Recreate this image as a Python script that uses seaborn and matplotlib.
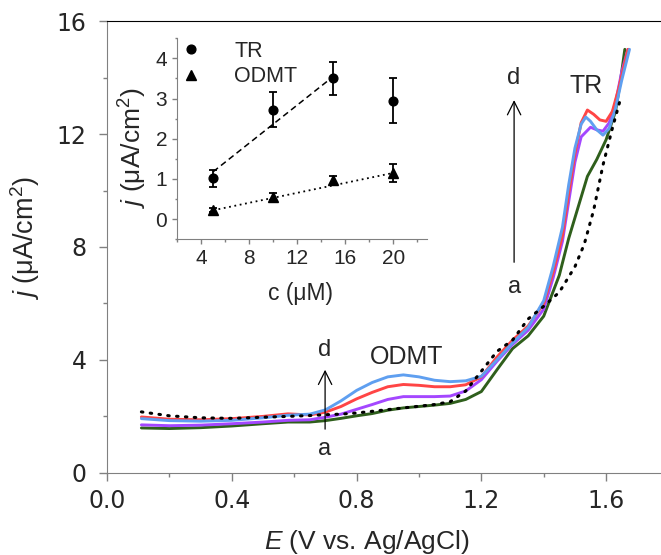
import matplotlib
matplotlib.use("Agg")
import matplotlib.pyplot as plt
from matplotlib.ticker import MultipleLocator
from matplotlib.lines import Line2D
import seaborn as sns

# main voltammograms, E in V, j in uA/cm2
E_a = [0.11, 0.2, 0.3, 0.4, 0.5, 0.58, 0.65, 0.70, 0.75, 0.80, 0.85, 0.90, 0.95, 1.0, 1.05, 1.10, 1.15, 1.20, 1.25, 1.30, 1.35, 1.40, 1.45, 1.48, 1.51, 1.54, 1.57, 1.60, 1.63, 1.645, 1.66]
j_a = [1.59, 1.57, 1.60, 1.66, 1.74, 1.80, 1.80, 1.85, 1.93, 2.02, 2.10, 2.22, 2.30, 2.35, 2.40, 2.46, 2.60, 2.88, 3.65, 4.40, 4.85, 5.55, 7.0, 8.3, 9.4, 10.5, 11.1, 11.8, 12.8, 13.8, 15.0]

E_b = [0.11, 0.2, 0.3, 0.4, 0.5, 0.58, 0.65, 0.70, 0.75, 0.80, 0.85, 0.90, 0.95, 1.0, 1.05, 1.10, 1.15, 1.20, 1.25, 1.30, 1.35, 1.40, 1.43, 1.46, 1.48, 1.50, 1.52, 1.55, 1.57, 1.59, 1.61, 1.63, 1.65, 1.67]
j_b = [1.70, 1.67, 1.69, 1.74, 1.80, 1.86, 1.88, 1.97, 2.08, 2.25, 2.42, 2.60, 2.70, 2.70, 2.70, 2.72, 2.90, 3.30, 3.95, 4.55, 5.05, 5.80, 6.9, 8.2, 9.6, 11.0, 11.9, 12.24, 12.15, 12.1, 12.4, 13.1, 14.2, 15.0]

E_c = [0.11, 0.2, 0.3, 0.4, 0.5, 0.58, 0.65, 0.70, 0.75, 0.80, 0.85, 0.90, 0.95, 1.0, 1.05, 1.10, 1.15, 1.20, 1.25, 1.30, 1.35, 1.40, 1.43, 1.46, 1.48, 1.50, 1.52, 1.54, 1.56, 1.58, 1.60, 1.62, 1.64, 1.67]
j_c = [1.98, 1.90, 1.88, 1.92, 2.00, 2.09, 2.05, 2.15, 2.35, 2.62, 2.85, 3.05, 3.13, 3.10, 3.05, 3.05, 3.12, 3.40, 4.10, 4.70, 5.20, 6.00, 7.1, 8.4, 9.9, 11.3, 12.4, 12.85, 12.7, 12.5, 12.45, 12.8, 13.6, 15.0]

E_d = [0.11, 0.2, 0.3, 0.4, 0.5, 0.58, 0.65, 0.70, 0.75, 0.80, 0.85, 0.90, 0.95, 1.0, 1.05, 1.10, 1.15, 1.20, 1.25, 1.30, 1.35, 1.40, 1.43, 1.46, 1.48, 1.50, 1.52, 1.535, 1.55, 1.57, 1.59, 1.61, 1.63, 1.65, 1.675]
j_d = [1.92, 1.85, 1.83, 1.86, 1.95, 2.04, 2.08, 2.23, 2.55, 2.92, 3.20, 3.40, 3.47, 3.40, 3.28, 3.23, 3.26, 3.42, 4.00, 4.60, 5.15, 6.10, 7.3, 8.7, 10.2, 11.5, 12.35, 12.6, 12.45, 12.15, 11.96, 12.2, 12.9, 13.9, 15.0]

E_blank = [0.11, 0.2, 0.3, 0.4, 0.5, 0.58, 0.65, 0.70, 0.75, 0.80, 0.85, 0.90, 0.95, 1.0, 1.05, 1.10, 1.15, 1.20, 1.25, 1.30, 1.35, 1.40, 1.45, 1.50, 1.53, 1.56, 1.59, 1.62, 1.645]
j_blank = [2.16, 2.02, 1.95, 1.93, 1.97, 2.00, 2.03, 2.06, 2.08, 2.12, 2.18, 2.24, 2.30, 2.36, 2.42, 2.52, 2.90, 3.60, 4.30, 4.70, 5.45, 5.90, 6.40, 7.30, 8.1, 9.3, 10.9, 12.2, 13.2]

# inset: peak current vs concentration
conc = [5, 10, 15, 20]
tr_j = [1.02, 2.72, 3.50, 2.95]
tr_err = [0.21, 0.44, 0.42, 0.55]
odmt_j = [0.22, 0.56, 0.98, 1.15]
odmt_err = [0.05, 0.08, 0.10, 0.22]
tr_fit_c = [5, 15]
tr_fit_j = [1.18, 3.55]
odmt_fit_c = [5, 20]
odmt_fit_j = [0.22, 1.15]

sns.set_style("ticks")
plt.rcParams['font.family'] = ['Liberation Sans', 'DejaVu Sans']
plt.rcParams['mathtext.fontset'] = 'custom'
plt.rcParams['mathtext.rm'] = 'Liberation Sans'
plt.rcParams['mathtext.it'] = 'Liberation Sans:italic'
ARIAL = ['Liberation Sans', 'DejaVu Sans']

fig = plt.figure(figsize=(6.61, 5.55), dpi=100)
ax = fig.add_axes([0.162, 0.148, 0.838, 0.814])

curves = [(E_a, j_a, "#2f5f1c"), (E_b, j_b, "#a447ff"), (E_c, j_c, "#ff4545"), (E_d, j_d, "#5f9ff0")]
for E, j, col in curves:
    sns.lineplot(x=E, y=j, ax=ax, color=col, lw=2.1, sort=False)
sns.lineplot(x=E_blank, y=j_blank, ax=ax, color="black", lw=2.2, sort=False,
             linestyle=(0, (0.5, 2.4)), dash_capstyle="round")

ax.set_xlim(0, 1.776)
ax.set_ylim(0, 16)
ax.xaxis.set_minor_locator(MultipleLocator(0.2))
ax.yaxis.set_minor_locator(MultipleLocator(2))
ax.set_xticks([0.0, 0.4, 0.8, 1.2, 1.6])
ax.set_xticklabels(["0.0", "0.4", "0.8", "1.2", "1.6"], family="DejaVu Sans")
ax.set_yticks([0, 4, 8, 12, 16])
ax.set_yticklabels(["0", "4", "8", "12", "16"], family="DejaVu Sans")
ax.tick_params(which="major", length=5.8, width=1, color="#808080", labelsize=17)
ax.tick_params(axis="x", which="major", pad=5.5)
ax.tick_params(axis="y", which="major", pad=9)
ax.tick_params(which="minor", length=2.9, width=1, color="#808080")
for s in ["left", "bottom"]:
    ax.spines[s].set_color("#808080")
ax.spines["top"].set_visible(True)
ax.spines["top"].set_color("black")
ax.spines["right"].set_visible(False)
ax.set_xlabel(r"$\mathit{E}$ (V vs. Ag/AgCl)", fontsize=19, family=ARIAL)
ax.xaxis.set_label_coords(0.469, -0.122)
ax.set_ylabel(r"$\mathit{j}$ (μA/cm$^2$)", fontsize=19.5, family=ARIAL)
ax.yaxis.set_label_coords(-0.117, 0.52)

# annotations
arr = dict(arrowstyle="->", color="black", lw=0.9, mutation_scale=24)
ax.annotate("", xy=(1.305, 13.3), xytext=(1.305, 7.36), arrowprops=arr)
ax.text(1.305, 14.0, "d", ha="center", va="center", fontsize=17, family=ARIAL)
ax.text(1.305, 6.6, "a", ha="center", va="center", fontsize=17, family=ARIAL)
ax.text(1.536, 13.7, "TR", ha="center", va="center", fontsize=18, family=ARIAL)
ax.annotate("", xy=(0.699, 3.75), xytext=(0.699, 1.45), arrowprops=arr)
ax.text(0.697, 4.35, "d", ha="center", va="center", fontsize=17, family=ARIAL)
ax.text(0.697, 0.85, "a", ha="center", va="center", fontsize=17, family=ARIAL)
ax.text(0.96, 4.1, "ODMT", ha="center", va="center", fontsize=18, family=ARIAL)

# inset
ins = fig.add_axes([0.268, 0.569, 0.378, 0.362])
sns.lineplot(x=tr_fit_c, y=tr_fit_j, ax=ins, color="black", lw=1.1, linestyle=(0, (4, 2.5)))
sns.lineplot(x=odmt_fit_c, y=odmt_fit_j, ax=ins, color="black", lw=1.3, linestyle=(0, (1, 2)))
ins.errorbar(conc, tr_j, yerr=tr_err, fmt="o", color="black", ms=6.3, capsize=3, elinewidth=1.3, capthick=1.3)
ins.errorbar(conc, odmt_j, yerr=odmt_err, fmt="^", color="black", ms=6.5, capsize=3, elinewidth=1.3, capthick=1.3)
ins.set_xlim(2, 22.8)
ins.set_ylim(-0.5, 4.5)
ins.xaxis.set_minor_locator(MultipleLocator(2))
ins.yaxis.set_minor_locator(MultipleLocator(0.5))
ins.set_xticks([4, 8, 12, 16, 20])
ins.set_xticklabels(["4", "8", "12", "16", "20"], family=ARIAL)
ins.set_yticks([0, 1, 2, 3, 4])
ins.set_yticklabels(["0", "1", "2", "3", "4"], family=ARIAL)
ins.tick_params(which="major", length=3.6, width=1, color="#808080", labelsize=15, pad=3.5)
ins.tick_params(which="minor", length=1.8, width=1, color="#808080")
for s in ["left", "bottom"]:
    ins.spines[s].set_color("#808080")
for s in ["top", "right"]:
    ins.spines[s].set_visible(False)
ins.set_xlabel("c (μM)", fontsize=16.5, family=ARIAL)
ins.xaxis.set_label_coords(0.492, -0.214)
ins.set_ylabel(r"$\mathit{j}$ (μA/cm$^2$)", fontsize=19, family=ARIAL)
ins.yaxis.set_label_coords(-0.112, 0.455)
ins.patch.set_alpha(0)
handles = [Line2D([], [], marker="o", color="black", ls="none", ms=6.3),
           Line2D([], [], marker="^", color="black", ls="none", ms=6.5)]
ins.legend(handles, ["TR", "ODMT"], loc="upper left", frameon=False,
           prop={"family": ARIAL, "size": 15.5},
           handletextpad=1.5, borderaxespad=0.1, labelspacing=0.2, handlelength=1.0,
           bbox_to_anchor=(-0.03, 1.04))

fig.savefig("out.png", dpi=100)
